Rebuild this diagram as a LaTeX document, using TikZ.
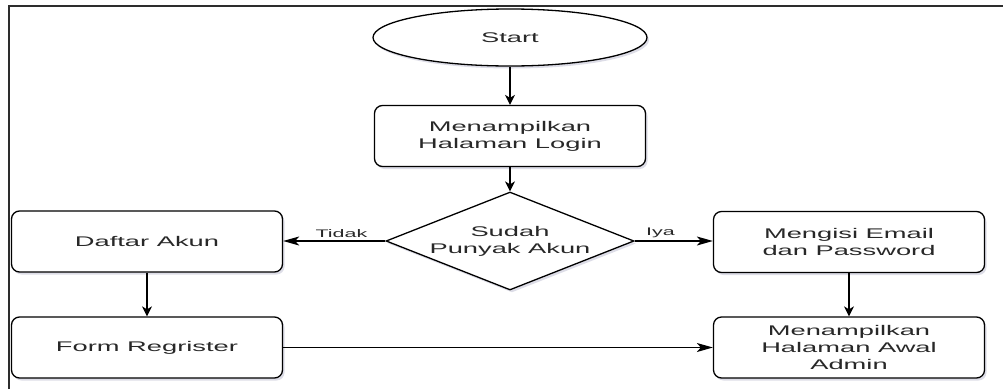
\documentclass[tikz,border=0pt]{standalone}
\usepackage{fontspec}
\setmainfont{Liberation Sans}[FakeStretch=1.95]
\usetikzlibrary{shapes.geometric,arrows.meta,shadows}
\definecolor{txt}{RGB}{40,40,40}
\definecolor{frame}{RGB}{45,45,45}
\definecolor{shade}{RGB}{120,120,160}
\tikzset{
  base/.style={draw=black, line width=1.3pt, fill=white, text=txt, align=center,
    inner sep=0pt, font=\fontsize{14}{17}\selectfont,
    drop shadow={shadow xshift=2pt, shadow yshift=-2.5pt, opacity=0.25, fill=shade}},
  procbox/.style={base, rectangle, rounded corners=8pt, minimum width=271pt, minimum height=61pt},
  termbox/.style={base, ellipse, minimum width=274pt, minimum height=57pt},
  decbox/.style={base, diamond, aspect=2.53, minimum width=248pt, minimum height=98pt},
  vflow/.style={draw=black, line width=1.3pt, -{Stealth[length=10pt,width=10pt,inset=3pt]}},
  hflow/.style={draw=black, line width=1.3pt, -{Stealth[length=16pt,width=9pt,inset=4pt]}},
  elabel/.style={text=txt, font=\fontsize{11}{13}\selectfont, inner sep=2pt}
}
\begin{document}
\begin{tikzpicture}[x=1pt, y=-1pt]
\useasboundingbox (0,0) rectangle (1003,389);
% frame (top and left edges visible)
\coordinate (fl) at (9,389);
\coordinate (fc) at (9,5.5);
\coordinate (fr) at (1003,5.5);
\draw[frame, line width=2pt] (fl) -- (fc) -- (fr);

\node[termbox] (start) at (510,37.5) {Start};
\node[procbox] (login) at (510,136) {Menampilkan\\Halaman Login};
\node[decbox] (dec) at (510,241) {Sudah\\Punyak Akun};
\node[procbox] (daftar) at (147,241.5) {Daftar Akun};
\node[procbox] (isi) at (849,242) {Mengisi Email\\dan Password};
\node[procbox] (form) at (147,347.5) {Form Regrister};
\node[procbox] (admin) at (849,347.5) {Menampilkan\\Halaman Awal\\Admin};

\draw[vflow] (start) -- (login);
\draw[vflow] (login) -- (dec);
\draw[hflow] (dec.west) -- node[elabel, pos=0.43, above=1pt] {Tidak} (daftar.east |- dec.west);
\draw[hflow] (dec.east) -- node[elabel, pos=0.33, above=1pt] {Iya} (isi.west |- dec.east);
\draw[vflow] (daftar) -- (form);
\draw[vflow] (isi) -- (admin);
\draw[hflow] (form) -- (admin);
\end{tikzpicture}
\end{document}
